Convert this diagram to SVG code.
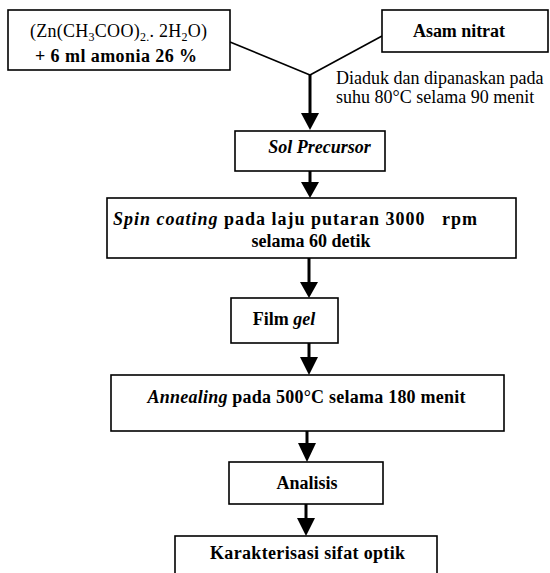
<svg xmlns="http://www.w3.org/2000/svg" width="550" height="573" viewBox="0 0 550 573">
<style>
.box{fill:#fff;stroke:#000;stroke-width:1.6}
text{font-family:"Liberation Serif","Times New Roman",serif;font-size:18px;fill:#000}
.b{font-weight:bold}
.bi{font-weight:bold;font-style:italic}
.c{text-anchor:middle}
.thin{stroke:#000;stroke-width:1.6;fill:none}
.thick{stroke:#000;stroke-width:3;fill:none}
.head{fill:#000}
</style>
<rect width="550" height="573" fill="#fff"/>
<g id="connectors">
<line class="thin" x1="230" y1="42" x2="310" y2="75"/>
<line class="thin" x1="382" y1="36" x2="310" y2="75"/>
<line class="thick" x1="310" y1="74" x2="310" y2="114"/>
<polygon class="head" points="301,113 319,113 310,130"/>
<line class="thick" x1="310" y1="171" x2="310" y2="183"/>
<polygon class="head" points="301,182 319,182 310,198"/>
<line class="thick" x1="309" y1="258" x2="309" y2="283"/>
<polygon class="head" points="300,282 318,282 309,298"/>
<line class="thick" x1="309" y1="343" x2="309" y2="358"/>
<polygon class="head" points="300,357 318,357 309,375"/>
<line class="thick" x1="307" y1="431" x2="307" y2="444"/>
<polygon class="head" points="298,443 316,443 307,462"/>
<line class="thick" x1="306" y1="504" x2="306" y2="519"/>
<polygon class="head" points="297,518 315,518 306,536"/>
<text x="336" y="84">Diaduk dan dipanaskan pada</text>
<text x="336" y="103">suhu 80°C selama 90 menit</text>
</g>
<g id="bahan">
<rect class="box" x="8" y="10" width="222" height="60"/>
<text class="c" x="118.5" y="37" textLength="177">(Zn(CH<tspan font-size="12" dy="4">3</tspan><tspan dy="-4">COO)</tspan><tspan font-size="12" dy="4">2.</tspan><tspan dy="-4">. 2H</tspan><tspan font-size="12" dy="4">2</tspan><tspan dy="-4">O)</tspan></text>
<text class="c b" x="116" y="62" textLength="162">+ 6 ml amonia 26 %</text>
</g>
<g id="asam">
<rect class="box" x="382" y="10" width="166" height="42"/>
<text class="c b" x="459" y="37" textLength="92">Asam nitrat</text>
</g>
<g id="sol">
<rect class="box" x="235" y="131" width="150" height="40"/>
<text class="c bi" x="319.5" y="153" font-size="19.5">Sol Precursor</text>
</g>
<g id="spin">
<rect class="box" x="107" y="198" width="409" height="60"/>
<text class="b" x="113" y="225" textLength="364" style="white-space:pre"><tspan font-style="italic">Spin coating</tspan> pada laju putaran 3000   rpm</text>
<text class="c b" x="311" y="247">selama 60 detik</text>
</g>
<g id="film">
<rect class="box" x="231" y="298" width="107" height="45"/>
<text class="c b" x="284" y="325">Film <tspan font-style="italic">gel</tspan></text>
</g>
<g id="annealing">
<rect class="box" x="111" y="375" width="393" height="56"/>
<text class="c b" x="306.5" y="403" textLength="318"><tspan font-style="italic">Annealing</tspan> pada 500°C selama 180 menit</text>
</g>
<g id="analisis">
<rect class="box" x="229" y="462" width="154" height="42"/>
<text class="c b" x="307" y="489">Analisis</text>
</g>
<g id="karakterisasi">
<rect class="box" x="175" y="536" width="262" height="45"/>
<text class="c b" x="307.5" y="559" textLength="195">Karakterisasi sifat optik</text>
</g>
</svg>
